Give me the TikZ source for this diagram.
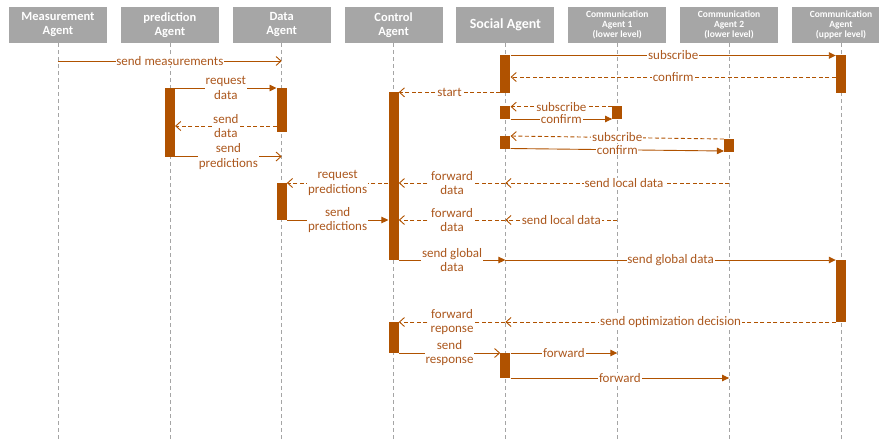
\documentclass[tikz,border=0pt]{standalone}
\usepackage{fontspec}
\setmainfont{Carlito}
\usetikzlibrary{arrows.meta,calc}
\definecolor{brn}{RGB}{176,82,0}
\definecolor{lblc}{RGB}{172,88,30}
\definecolor{hdr}{RGB}{166,166,166}
\definecolor{life}{RGB}{165,165,165}
\begin{document}
\begin{tikzpicture}[x=1pt,y=-1pt,
 hd/.style={fill=hdr,text=white,font=\bfseries\fontsize{12.5}{14}\selectfont,align=center,minimum width=98pt,minimum height=36pt,inner sep=0pt},
 hdsmall/.style={hd,font=\bfseries\fontsize{9.5}{10}\selectfont},
 hdbig/.style={hd,font=\bfseries\fontsize{14}{15}\selectfont},
 lifeline/.style={draw=life,dash pattern=on 4pt off 3pt,line width=0.8pt},
 act/.style={fill=brn,draw=none,minimum width=10pt,inner sep=0pt,anchor=north},
 msg/.style={draw=brn,line width=0.9pt},
 ret/.style={msg,dash pattern=on 4pt off 2.5pt,-{Straight Barb[length=5pt,width=9pt]}},
 syn/.style={msg,-{Triangle[length=7pt,width=6.5pt]}},
 asy/.style={msg,-{Straight Barb[length=5pt,width=9pt]}},
 lb/.style={fill=white,text=lblc,font=\fontsize{13}{14.3}\selectfont,align=center,inner sep=0.8pt},
]
\useasboundingbox (0,0) rectangle (879,440);
% headers
\node[hd] (h1) at (58,25) {Measurement\\Agent};
\node[hd] (h2) at (169.9,25) {prediction\\Agent};
\node[hd] (h3) at (281.7,25) {Data\\Agent};
\node[hd] (h4) at (393.6,25) {Control\\Agent};
\node[hdbig] (h5) at (505.4,25) {Social Agent};
\node[hdsmall] (h6) at (617.3,25) {Communication\\Agent 1\\(lower level)};
\node[hdsmall] (h7) at (729.1,25) {Communication\\Agent 2\\(lower level)};
\node[hdsmall] (h8) at (841,25) {Communication\\Agent\\(upper level)};
% lifelines
\foreach \i in {1,...,8} {\draw[lifeline] (h\i.south) -- (h\i |- 0,440);}
% activations
\node[act,minimum height=69pt] (P1) at (h2 |- 0,88) {};
\node[act,minimum height=44pt] (D1) at (h3 |- 0,88) {};
\node[act,minimum height=38pt] (S1) at (h5 |- 0,55) {};
\node[act,minimum height=38pt] (U1) at (h8 |- 0,55) {};
\node[act,minimum height=168pt] (C1) at (h4 |- 0,92) {};
\node[act,minimum height=13pt] (S2) at (h5 |- 0,106) {};
\node[act,minimum height=13pt] (K1) at (h6 |- 0,106) {};
\node[act,minimum height=13pt] (S3) at (h5 |- 0,136) {};
\node[act,minimum height=13pt] (K2) at (h7 |- 0,139) {};
\node[act,minimum height=37pt] (D2) at (h3 |- 0,183) {};
\node[act,minimum height=62pt] (U2) at (h8 |- 0,260) {};
\node[act,minimum height=31pt] (C2) at (h4 |- 0,322) {};
\node[act,minimum height=25pt] (S4) at (h5 |- 0,353) {};
% messages
\draw[asy] (h1 |- 0,61) -- node[lb]{send measurements} (h3 |- 0,61);
\draw[syn] (P1.east |- 0,88) -- node[lb]{request\\data} (D1.west |- 0,88);
\draw[ret] (D1.west |- 0,126) -- node[lb]{send\\data} (P1.east |- 0,126);
\draw[asy] (P1.east |- 0,156.5) -- node[lb]{send\\predictions} (h3 |- 0,156.5);
\draw[syn] (S1.east |- 0,55.5) -- node[lb]{subscribe} (U1.west |- 0,55.5);
\draw[ret] (U1.west |- 0,77) -- node[lb]{confirm} (S1.east |- 0,77);
\draw[ret] (S1.west |- 0,92.3) -- node[lb]{start} (C1.east |- 0,92.3);
\draw[ret] (K1.west |- 0,106.7) -- node[lb]{subscribe} (S2.east |- 0,106.7);
\draw[syn] (S2.east |- 0,119) -- node[lb]{confirm} (K1.west |- 0,119);
\draw[ret] (K2.west |- 0,139) -- node[lb]{subscribe} (S3.east |- 0,136);
\draw[syn] (S3.east |- 0,148.5) -- node[lb]{confirm} (K2.west |- 0,151);
\draw[ret] (C1.west |- 0,183) -- node[lb]{request\\predictions} (D2.east |- 0,183);
\draw[syn] (D2.east |- 0,220) -- node[lb]{send\\predictions} (C1.west |- 0,220);
\draw[ret] (h7 |- 0,183) -- node[lb,pos=0.47]{send local data} (h5 |- 0,183);
\draw[ret] (h5 |- 0,183) -- node[lb]{forward\\data} (C1.east |- 0,183);
\draw[ret] (h6 |- 0,220) -- node[lb]{send local data} (h5 |- 0,220);
\draw[ret] (h5 |- 0,220) -- node[lb]{forward\\data} (C1.east |- 0,220);
\draw[syn] (C1.east |- 0,260) -- node[lb]{send global\\data} (h5 |- 0,260);
\draw[syn] (h5 |- 0,260) -- node[lb]{send global data} (U2.west |- 0,260);
\draw[ret] (U2.west |- 0,322) -- node[lb]{send optimization decision} (h5 |- 0,322);
\draw[ret] (h5 |- 0,322) -- node[lb]{forward\\reponse} (C2.east |- 0,322);
\draw[asy] (C2.east |- 0,353) -- node[lb]{send\\response} (S4.west |- 0,353);
\draw[syn] (S4.east |- 0,353) -- node[lb]{forward} (h6 |- 0,353);
\draw[syn] (S4.east |- 0,378) -- node[lb]{forward} (h7 |- 0,378);
\end{tikzpicture}
\end{document}
